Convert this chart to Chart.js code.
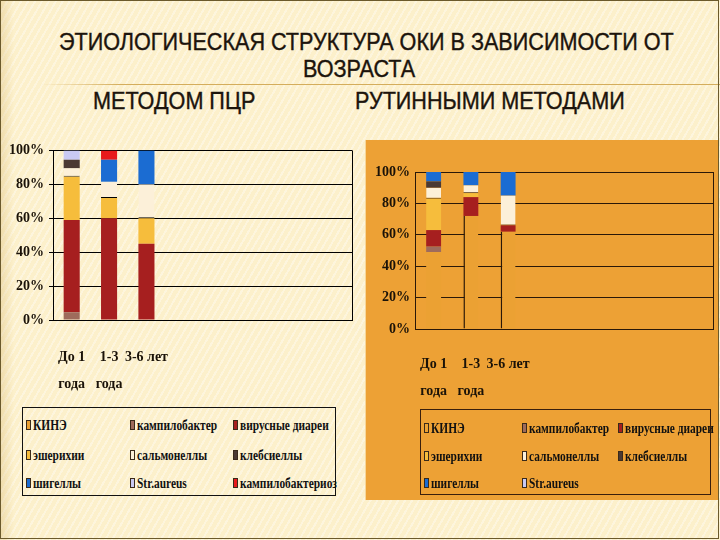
<!DOCTYPE html>
<html>
<head>
<meta charset="utf-8">
<script src="https://cdn.jsdelivr.net/npm/chart.js@4.4.1/dist/chart.umd.min.js"></script>
<style>
  html, body { margin: 0; padding: 0; }
  body {
    width: 720px; height: 540px; position: relative; overflow: hidden;
    background-color: #fcf0cb;
    background-image:
      linear-gradient(90deg, rgba(214,182,110,0.35) 0px, rgba(214,182,110,0) 14px),
      repeating-linear-gradient(120deg, rgba(255,255,255,0.35) 0px, rgba(255,255,255,0.35) 2px, rgba(255,255,255,0) 2px, rgba(255,255,255,0) 6px);
    font-family: "Liberation Sans", Arial, sans-serif;
  }
  .frame { position: absolute; left: 0; top: 0; width: 717px; height: 537px; border: 1.5px solid #6b5a2c; pointer-events: none; }
  .head { position: absolute; white-space: nowrap; font-size: 24px; line-height: 24px; color: #1c140c; transform-origin: left top; transform: scaleX(0.9);
    -webkit-text-stroke: 0.4px #1c140c; }
  .rule { position: absolute; left: 40px; top: 84px; width: 680px; height: 1px;
    background: linear-gradient(90deg, rgba(200,160,80,0) 0%, #d4ad5c 12%, #d4ad5c 100%); }
  .panel { position: absolute; left: 366px; top: 140px; width: 352px; height: 360px; background: #eda135;
    box-shadow: -1px 0 0 #f6d79a; }
  .box { position: absolute; }
  .legend { position: absolute; border: 1px solid #111; }
  .item { position: absolute; height: 16px; line-height: 16px; white-space: nowrap; }
  .sw { position: absolute; left: 0; top: 3px; width: 5px; height: 10px; box-sizing: border-box; }
  .lbl { position: absolute; left: 7px; top: 0; font-family: "Liberation Serif", serif; font-weight: bold; font-size: 15px;
    color: #111; transform-origin: left center; transform: scaleX(0.76); }
</style>
</head>
<body>
<div class="head" id="h1" style="top:30px">ЭТИОЛОГИЧЕСКАЯ СТРУКТУРА ОКИ В ЗАВИСИМОСТИ ОТ</div>
<div class="head" id="h2" style="top:57px">ВОЗРАСТА</div>
<div class="rule"></div>
<div class="head" style="top:89px; left:93px">МЕТОДОМ ПЦР</div>
<div class="head" style="top:89px; left:355px">РУТИННЫМИ МЕТОДАМИ</div>

<div class="box" style="left:0; top:137px; width:360px; height:263px"><canvas id="pcrChart"></canvas></div>
<div class="legend" id="pcrLegend" style="left:22px; top:407px; width:312px; height:87px"></div>

<div class="panel">
  <div class="box" style="left:0; top:0; width:352px; height:270px"><canvas id="rutChart"></canvas></div>
  <div class="legend" id="rutLegend" style="left:54px; top:269px; width:289px; height:84px; border-color:#3a1f0c"></div>
</div>
<div class="frame"></div>

<script>
// categories (8 slots, only the first 3 are used)
const categories = [['До 1', 'года'], ['1-3', 'года'], '3-6 лет', '', '', '', '', ''];
const yTickLabels = ['0%', '20%', '40%', '60%', '80%', '100%'];

const seriesNames = ['КИНЭ', 'кампилобактер', 'вирусные диареи', 'эшерихии', 'сальмонеллы',
  'клебсиеллы', 'шигеллы', 'Str.aureus', 'кампилобактериоз'];
const seriesColors = ['#eba133', '#9e6b5c', '#a61f1f', '#f6bd3c', '#fcf0d9',
  '#4a3933', '#1b6cd2', '#c9c9f3', '#e8191b'];

// методом ПЦР, % per age group
const pcrKINE = [0, 0, 0];
const pcrCampylobacter = [4.5, 0, 0];
const pcrViral = [54.5, 60, 45];
const pcrEscherichia = [25.5, 12, 15];
const pcrSalmonella = [5, 9.5, 20];
const pcrKlebsiella = [5, 0, 0];
const pcrShigella = [0, 13, 20];
const pcrStaph = [5.5, 0, 0];
const pcrCampylobacteriosis = [0, 5.5, 0];

// рутинными методами, % per age group
const rutKINE = [49, 72, 62];
const rutCampylobacter = [3.5, 0, 0];
const rutViral = [10.5, 12, 4];
const rutEscherichia = [20, 2.5, 0];
const rutSalmonella = [7, 5, 19];
const rutKlebsiella = [4, 0, 0];
const rutShigella = [6, 8.5, 15];
const rutStaph = [0, 0, 0];

const pcrSeries = [pcrKINE, pcrCampylobacter, pcrViral, pcrEscherichia, pcrSalmonella,
  pcrKlebsiella, pcrShigella, pcrStaph, pcrCampylobacteriosis];
const rutSeries = [rutKINE, rutCampylobacter, rutViral, rutEscherichia, rutSalmonella,
  rutKlebsiella, rutShigella, rutStaph];

// draws the right edge of the plot frame
const frameRight = {
  id: 'frameRight',
  beforeDatasetsDraw(chart, args, opts) {
    const a = chart.chartArea, c = chart.ctx;
    c.save();
    c.strokeStyle = opts.color || '#000';
    c.lineWidth = 1;
    c.beginPath();
    c.moveTo(Math.round(a.right) + 0.5, a.top);
    c.lineTo(Math.round(a.right) + 0.5, a.bottom);
    c.stroke();
    c.restore();
  }
};

function makeDatasets(series, barPct, lineColor, rutinnye) {
  return series.map((data, i) => {
    const ds = {
      label: seriesNames[i],
      data: data,
      backgroundColor: seriesColors[i],
      borderWidth: 0,
      barPercentage: barPct,
      categoryPercentage: 1
    };
    if (seriesNames[i] === 'сальмонеллы') {
      ds.borderWidth = { top: 0, right: 0, bottom: 1, left: 0 };
      ds.borderSkipped = false;
      ds.borderColor = lineColor;
    }
    if (rutinnye && i === 0) {
      ds.borderWidth = ctx => ctx.dataIndex === 0 ? 0 : { top: 0, right: 0, bottom: 0, left: 1.5 };
      ds.borderSkipped = false;
      ds.borderColor = lineColor;
    }
    return ds;
  });
}

function makeChart(id, series, o) {
  const tickFont = { family: 'Liberation Serif', weight: 'bold', size: 14, lineHeight: 1.93 };
  return new Chart(document.getElementById(id), {
    type: 'bar',
    data: { labels: categories, datasets: makeDatasets(series, o.barPct, o.line, o.rut) },
    options: {
      responsive: true,
      maintainAspectRatio: false,
      animation: false,
      layout: { padding: { top: o.top, right: o.right, left: 0, bottom: 0 } },
      plugins: { legend: { display: false }, tooltip: { enabled: false }, frameRight: { color: o.line } },
      scales: {
        x: {
          stacked: true,
          grid: { display: false },
          border: { display: true, color: o.line, width: 1 },
          ticks: { color: '#1a1208', font: tickFont, padding: o.xPad, maxRotation: 0, autoSkip: false },
          afterFit: s => { s.height = o.xHeight; }
        },
        y: {
          stacked: true,
          min: 0, max: 100,
          ticks: { stepSize: 20, color: '#1a1208', font: { family: 'Liberation Serif', weight: 'bold', size: 14 },
            padding: 5, callback: (v, i) => yTickLabels[i] },
          grid: { color: o.line, lineWidth: 1, drawTicks: o.yTick > 0, tickLength: o.yTick },
          border: { display: true, color: o.line, width: 1 },
          afterFit: s => { s.width = o.yWidth; }
        }
      }
    },
    plugins: [frameRight]
  });
}

makeChart('pcrChart', pcrSeries, { barPct: 0.43, line: '#000', rut: false, top: 7, right: 8, xPad: 16, xHeight: 80, yWidth: 53, yTick: 4 });
makeChart('rutChart', rutSeries, { barPct: 0.40, line: '#2a1808', rut: true, top: 32, right: 5, xPad: 14, xHeight: 81, yWidth: 49, yTick: 0 });

// legends built from the same series names / colours
function buildLegend(el, count, colX, rowY) {
  for (let i = 0; i < count; i++) {
    const item = document.createElement('div');
    item.className = 'item';
    item.style.left = colX[i % 3] + 'px';
    item.style.top = (rowY[Math.floor(i / 3)] - 8) + 'px';
    const sw = document.createElement('div');
    sw.className = 'sw';
    sw.style.background = seriesColors[i];
    sw.style.border = '1px solid #3a2a1a';
    const lbl = document.createElement('span');
    lbl.className = 'lbl';
    lbl.textContent = seriesNames[i];
    item.appendChild(sw);
    item.appendChild(lbl);
    el.appendChild(item);
  }
}
buildLegend(document.getElementById('pcrLegend'), 9, [3, 107, 210], [17, 47, 75]);
buildLegend(document.getElementById('rutLegend'), 8, [3, 101, 197], [18, 46, 73]);

// centre the two title lines on their reference positions
function centreAt(el, cx) {
  const w = el.getBoundingClientRect().width;
  el.style.left = (cx - w / 2) + 'px';
}
centreAt(document.getElementById('h1'), 366);
centreAt(document.getElementById('h2'), 359);
</script>
</body>
</html>
